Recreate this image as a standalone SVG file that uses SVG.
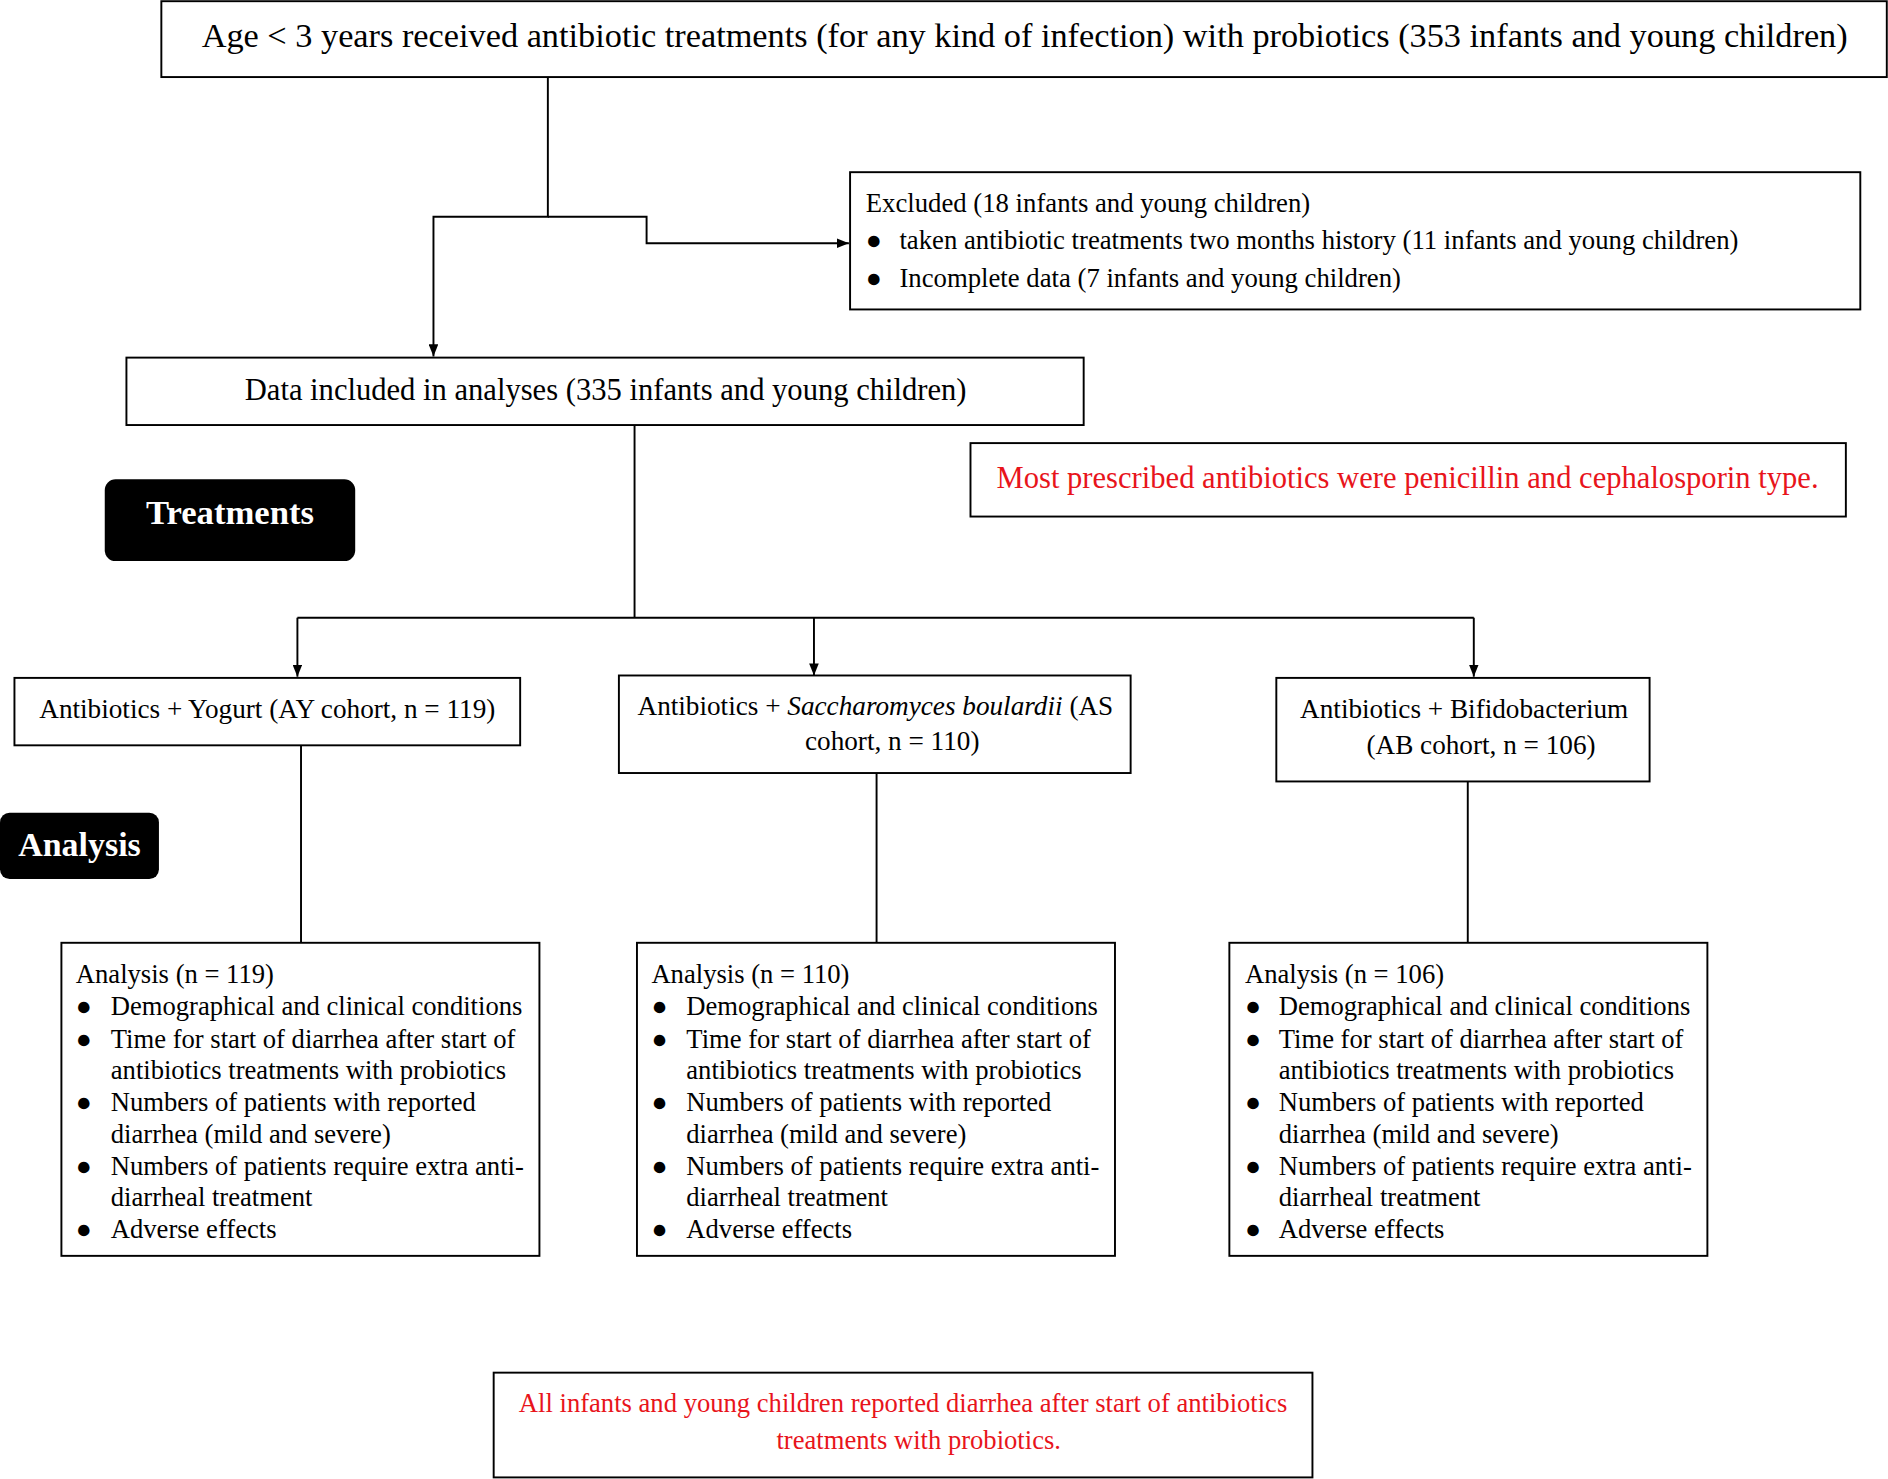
<svg xmlns="http://www.w3.org/2000/svg" width="1888" height="1479" viewBox="0 0 1888 1479">
<defs>
<style>
.box{fill:#fff;stroke:#000;stroke-width:1.6}
.blk{fill:#000;stroke:none}
.t{font-family:"Liberation Serif","Times New Roman",serif;fill:#000}
.r{fill:#e8141b}
.w{fill:#fff;font-weight:bold}
.c{fill:none;stroke:#000;stroke-width:1.6}
</style>
<marker id="ah" viewBox="0 0 10 10" refX="10" refY="5" markerWidth="10" markerHeight="8" orient="auto" markerUnits="userSpaceOnUse" preserveAspectRatio="none">
<path d="M0,0 L10,5 L0,10 z" fill="#000"/>
</marker>
</defs>
<rect width="1888" height="1479" fill="#fff"/>
<g transform="scale(1.20408)">
<g id="connectors">
<path class="c" d="M455,64 V180 H360 V296" marker-end="url(#ah)"/>
<path class="c" d="M455,180 H537 V202 H705" marker-end="url(#ah)"/>
<path class="c" d="M527,353 V513"/>
<path class="c" d="M247,513 H1224"/>
<path class="c" d="M247,513 V562" marker-end="url(#ah)"/>
<path class="c" d="M676,513 V561" marker-end="url(#ah)"/>
<path class="c" d="M1224,513 V562" marker-end="url(#ah)"/>
<path class="c" d="M250,619 V783"/>
<path class="c" d="M728,642 V783"/>
<path class="c" d="M1219,649 V783"/>
</g>
<g id="top">
<rect class="box" x="134" y="1" width="1433" height="63"/>
<text class="t" x="851" y="39" font-size="28.5" text-anchor="middle">Age &lt; 3 years received antibiotic treatments (for any kind of infection) with probiotics (353 infants and young children)</text>
</g>
<g id="excluded">
<rect class="box" x="706" y="143" width="839" height="114"/>
<text class="t" x="719" y="176" font-size="22.2">Excluded (18 infants and young children)</text>
<text class="t" x="719" y="207" font-size="22.2">●</text>
<text class="t" x="747" y="207" font-size="22.2">taken antibiotic treatments two months history (11 infants and young children)</text>
<text class="t" x="719" y="238" font-size="22.2">●</text>
<text class="t" x="747" y="238" font-size="22.2">Incomplete data (7 infants and young children)</text>
</g>
<g id="included">
<rect class="box" x="105" y="297" width="795" height="56"/>
<text class="t" x="503" y="332" font-size="25.4" text-anchor="middle">Data included in analyses (335 infants and young children)</text>
</g>
<g id="note1">
<rect class="box" x="806" y="368" width="727" height="61"/>
<text class="t r" x="1169" y="405" font-size="25.4" text-anchor="middle">Most prescribed antibiotics were penicillin and cephalosporin type.</text>
</g>
<g id="treatments">
<rect class="blk" x="87" y="398" width="208" height="68" rx="9"/>
<text class="t w" x="191" y="435" font-size="28.8" text-anchor="middle">Treatments</text>
</g>
<g id="ay">
<rect class="box" x="12" y="563" width="420" height="56"/>
<text class="t" x="222" y="596" font-size="22.6" text-anchor="middle">Antibiotics + Yogurt (AY cohort, n = 119)</text>
</g>
<g id="as">
<rect class="box" x="514" y="561" width="425" height="81"/>
<text class="t" x="727" y="594" font-size="22.6" text-anchor="middle">Antibiotics + <tspan font-style="italic">Saccharomyces boulardii</tspan> (AS</text>
<text class="t" x="741" y="623" font-size="22.6" text-anchor="middle">cohort, n = 110)</text>
</g>
<g id="ab">
<rect class="box" x="1060" y="563" width="310" height="86"/>
<text class="t" x="1216" y="596" font-size="22.6" text-anchor="middle">Antibiotics + Bifidobacterium</text>
<text class="t" x="1230" y="626" font-size="22.6" text-anchor="middle">(AB cohort, n = 106)</text>
</g>
<g id="analysis-label">
<rect class="blk" x="0" y="675" width="132" height="55" rx="8"/>
<text class="t w" x="66" y="711" font-size="28.2" text-anchor="middle">Analysis</text>
</g>
<g id="an1">
<rect class="box" x="51" y="783" width="397" height="260"/>
<text class="t" font-size="22.1">
<tspan x="63" y="816">Analysis (n = 119)</tspan>
<tspan x="63" y="843">●</tspan><tspan x="92" y="843">Demographical and clinical conditions</tspan>
<tspan x="63" y="870">●</tspan><tspan x="92" y="870">Time for start of diarrhea after start of</tspan>
<tspan x="92" y="896">antibiotics treatments with probiotics</tspan>
<tspan x="63" y="923">●</tspan><tspan x="92" y="923">Numbers of patients with reported</tspan>
<tspan x="92" y="949">diarrhea (mild and severe)</tspan>
<tspan x="63" y="976">●</tspan><tspan x="92" y="976">Numbers of patients require extra anti-</tspan>
<tspan x="92" y="1002">diarrheal treatment</tspan>
<tspan x="63" y="1028">●</tspan><tspan x="92" y="1028">Adverse effects</tspan>
</text>
</g>
<g id="an2">
<rect class="box" x="529" y="783" width="397" height="260"/>
<text class="t" font-size="22.1">
<tspan x="541" y="816">Analysis (n = 110)</tspan>
<tspan x="541" y="843">●</tspan><tspan x="570" y="843">Demographical and clinical conditions</tspan>
<tspan x="541" y="870">●</tspan><tspan x="570" y="870">Time for start of diarrhea after start of</tspan>
<tspan x="570" y="896">antibiotics treatments with probiotics</tspan>
<tspan x="541" y="923">●</tspan><tspan x="570" y="923">Numbers of patients with reported</tspan>
<tspan x="570" y="949">diarrhea (mild and severe)</tspan>
<tspan x="541" y="976">●</tspan><tspan x="570" y="976">Numbers of patients require extra anti-</tspan>
<tspan x="570" y="1002">diarrheal treatment</tspan>
<tspan x="541" y="1028">●</tspan><tspan x="570" y="1028">Adverse effects</tspan>
</text>
</g>
<g id="an3">
<rect class="box" x="1021" y="783" width="397" height="260"/>
<text class="t" font-size="22.1">
<tspan x="1034" y="816">Analysis (n = 106)</tspan>
<tspan x="1034" y="843">●</tspan><tspan x="1062" y="843">Demographical and clinical conditions</tspan>
<tspan x="1034" y="870">●</tspan><tspan x="1062" y="870">Time for start of diarrhea after start of</tspan>
<tspan x="1062" y="896">antibiotics treatments with probiotics</tspan>
<tspan x="1034" y="923">●</tspan><tspan x="1062" y="923">Numbers of patients with reported</tspan>
<tspan x="1062" y="949">diarrhea (mild and severe)</tspan>
<tspan x="1034" y="976">●</tspan><tspan x="1062" y="976">Numbers of patients require extra anti-</tspan>
<tspan x="1062" y="1002">diarrheal treatment</tspan>
<tspan x="1034" y="1028">●</tspan><tspan x="1062" y="1028">Adverse effects</tspan>
</text>
</g>
<g id="note2">
<rect class="box" x="410" y="1140" width="680" height="87"/>
<text class="t r" x="750" y="1173" font-size="22.1" text-anchor="middle">All infants and young children reported diarrhea after start of antibiotics</text>
<text class="t r" x="763" y="1203" font-size="22.1" text-anchor="middle">treatments with probiotics.</text>
</g>
</g>
</svg>
